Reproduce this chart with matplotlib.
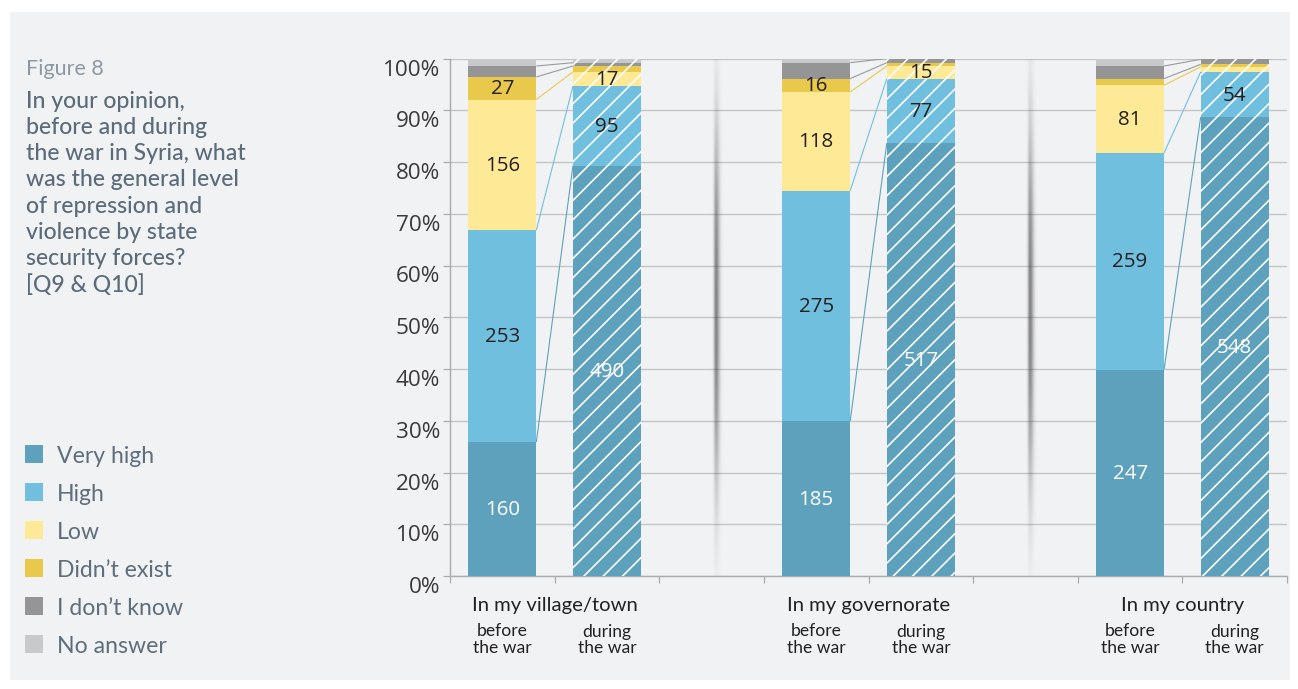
import numpy as np
import matplotlib
matplotlib.use("Agg")
import matplotlib.pyplot as plt
from matplotlib.patches import Rectangle
from matplotlib.transforms import ScaledTranslation, blended_transform_factory

DPI = 116
W, H = 1298, 689


def pt(pixels):
    """Convert a size in pixels to points at the output resolution."""
    return pixels * 72.0 / DPI


# ---- data -------------------------------------------------------------
groups = ["In my village/town", "In my governorate", "In my country"]
periods = [("before", "the war"), ("during", "the war")]
categories = ["Very high", "High", "Low", "Didn\u2019t exist", "I don\u2019t know", "No answer"]
colors = ["#5ea1bc", "#71bfdf", "#fee997", "#e9c94b", "#959595", "#c8c9cb"]

# respondents per answer; bar order: village before/during,
# governorate before/during, country before/during
very_high = [160, 490, 185, 517, 247, 548]
high = [253, 95, 275, 77, 259, 54]
low = [156, 17, 118, 15, 81, 6]
didnt_exist = [27, 7, 16, 4, 8, 3]
dont_know = [13, 4, 19, 5, 15, 6]
no_answer = [9, 5, 5, 0, 9, 1]

yticks = list(range(0, 101, 10))
ytick_labels = [f"{v}%" for v in yticks]

title_label = "Figure 8"
title_lines = ["In your opinion,", "before and during", "the war in Syria, what",
               "was the general level", "of repression and", "violence by state",
               "security forces?", "[Q9 & Q10]"]

# ---- derived shares ---------------------------------------------------
counts = np.array([very_high, high, low, didnt_exist, dont_know, no_answer], dtype=float)
pct = counts / counts.sum(axis=0) * 100.0
cum = np.vstack([np.zeros(counts.shape[1]), np.cumsum(pct, axis=0)])

bar_x = [0.5, 1.5, 3.5, 4.5, 6.5, 7.5]
is_during = [False, True, False, True, False, True]
BW = 0.65
separators = [2.54, 5.54]

BG = "#f1f2f4"
AXIS_GREY = "#a9abad"
GRID_GREY = "#c4c5c7"
TITLE_COL = "#5b6b79"
LEGEND_COL = "#5f6e7c"
NUM_FONT = ["Open Sans", "DejaVu Sans"]
TXT_FONT = ["Lato", "DejaVu Sans"]

fig = plt.figure(figsize=(W / DPI, H / DPI), dpi=DPI, facecolor="white")
fig.patches.append(Rectangle((10 / W, 9 / H), 1280 / W, 668 / H, transform=fig.transFigure,
                             facecolor=BG, edgecolor="none", zorder=-10))

ax_left, ax_right, ax_top, ax_bottom = 450, 1287, 58.5, 576
ax = fig.add_axes([ax_left / W, (H - ax_bottom) / H,
                   (ax_right - ax_left) / W, (ax_bottom - ax_top) / H])
ax.set_facecolor("none")

# ---- stacked bars -----------------------------------------------------
for b, x in enumerate(bar_x):
    for c in range(len(categories)):
        if pct[c, b] <= 0:
            continue
        ax.bar(x, pct[c, b], bottom=cum[c, b], width=BW, color=colors[c],
               edgecolor="white", linewidth=0,
               hatch="//" if is_during[b] else None, zorder=3)

# value labels inside the larger segments
for b, x in enumerate(bar_x):
    for c in range(4):
        if counts[c, b] < 15:
            continue
        yc = cum[c, b] + pct[c, b] / 2
        tr = ax.transData + ScaledTranslation(0, -6.0 / DPI, fig.dpi_scale_trans)
        ax.text(x, yc, f"{int(counts[c, b])}", transform=tr, ha="center", va="baseline",
                fontsize=pt(20.5), family=NUM_FONT,
                color="white" if c == 0 else "#231f20", zorder=5)

# connectors between before/during bars
line_cols = [colors[0], colors[1], "#e9c94b", "#9a9a9a", "#9a9a9a"]
for g in range(len(groups)):
    b0, b1 = 2 * g, 2 * g + 1
    for k in range(5):
        ax.plot([bar_x[b0] + BW / 2, bar_x[b1] - BW / 2],
                [cum[k + 1, b0], cum[k + 1, b1]],
                color=line_cols[k], lw=pt(1.1), zorder=4, solid_capstyle="butt")

# soft vertical shadows separating the groups
hw = 8 / ((ax_right - ax_left) / 8.0)
xs = np.linspace(-8, 8, 65)
prof_x = np.where(xs < 0, np.exp(-0.5 * (xs / 1.5) ** 2), np.exp(-0.5 * (xs / 2.6) ** 2))
ys = np.linspace(0, 100, 400)
prof_y = np.exp(-np.abs((ys - 52) / 34.0) ** 2.5)
alpha = 0.6 * prof_y[:, None] * prof_x[None, :]
shadow = np.zeros((len(ys), len(xs), 4))
shadow[..., :3] = 0.22
shadow[..., 3] = alpha
for sx in separators:
    ax.imshow(shadow, extent=(sx - hw, sx + hw, 0, 100), origin="lower",
              aspect="auto", interpolation="bilinear", zorder=1)

# ---- axes styling -----------------------------------------------------
ax.set_xlim(0, 8)
ax.set_ylim(0, 100)
for s in ("top", "right"):
    ax.spines[s].set_visible(False)
for s in ("left", "bottom"):
    ax.spines[s].set_color(AXIS_GREY)
    ax.spines[s].set_linewidth(pt(1.4))

ax.set_yticks(yticks)
ax.set_yticklabels(ytick_labels, fontsize=pt(22.5), family=NUM_FONT, color="#3a3a3a")
ax.tick_params(axis="y", length=pt(7), width=pt(1.2), color=AXIS_GREY, pad=pt(3))
shift = ScaledTranslation(0, -17.0 / DPI, fig.dpi_scale_trans)
for lab in ax.get_yticklabels():
    lab.set_va("baseline")
    lab.set_transform(lab.get_transform() + shift)

ax.set_xticks(range(9))
ax.set_xticklabels([])
ax.tick_params(axis="x", length=pt(7), width=pt(1.2), color=AXIS_GREY)

ax.yaxis.grid(True, color=GRID_GREY, lw=pt(1.4))
ax.set_axisbelow(True)

# ---- category labels under the axis -----------------------------------
btr = blended_transform_factory(ax.transData, fig.transFigure)


def fy(ypix):
    return 1 - ypix / H


for g, name in enumerate(groups):
    ax.text(bar_x[2 * g] + 0.5, fy(611.5), name, transform=btr, ha="center", va="baseline",
            fontsize=pt(20.2), family=TXT_FONT, color="#222222")
for b, x in enumerate(bar_x):
    first, second = periods[1 if is_during[b] else 0]
    ax.text(x, fy(636.5), first, transform=btr, ha="center", va="baseline",
            fontsize=pt(17.5), family=TXT_FONT, color="#222222")
    ax.text(x, fy(653), second, transform=btr, ha="center", va="baseline",
            fontsize=pt(17.5), family=TXT_FONT, color="#222222")

# ---- title block ------------------------------------------------------
fig.text(26 / W, fy(75), title_label, ha="left", va="baseline", fontsize=pt(21.5),
         family=TXT_FONT, fontweight="normal", color="#8c98a3")
for i, line in enumerate(title_lines):
    fig.text(26 / W, fy(107.5 + 26.3 * i), line, ha="left", va="baseline",
             fontsize=pt(23), family=TXT_FONT, fontweight="medium", color=TITLE_COL)

# ---- legend -----------------------------------------------------------
for i, (name, col) in enumerate(zip(categories, colors)):
    base = 462.7 + 38 * i
    fig.patches.append(Rectangle((25 / W, (H - base) / H), 17.7 / W, 17.7 / H,
                                 transform=fig.transFigure, facecolor=col,
                                 edgecolor="none", zorder=2))
    fig.text(57 / W, fy(base), name, ha="left", va="baseline", fontsize=pt(23),
             family=TXT_FONT, color=LEGEND_COL)

fig.savefig("out.png", dpi=DPI, facecolor=fig.get_facecolor())
